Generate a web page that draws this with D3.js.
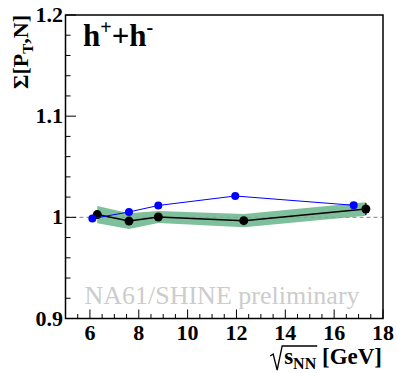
<!DOCTYPE html>
<html><head><meta charset="utf-8">
<script src="https://cdn.jsdelivr.net/npm/d3@7"></script>
<style>body{margin:0;background:#fff}svg{display:block}</style>
</head><body>
<script>
const W = 397, H = 373;
// data
const blackX = [6.3, 7.6, 8.8, 12.3, 17.3];
const blackY = [1.0027, 0.9963, 1.0003, 0.9967, 1.0082];
const blackStat = [0.002, 0.002, 0.002, 0.002, 0.006];
const blackSys = [0.0085, 0.0078, 0.006, 0.0065, 0.0066];
const blueX = [6.1, 7.6, 8.8, 11.95, 16.8];
const blueY = [0.9988, 1.0053, 1.0117, 1.0211, 1.0119];
const xTicks = [6, 8, 10, 12, 14, 16, 18];
const yTicks = [0.9, 1.0, 1.1, 1.2];
const yTickLabels = ["0.9", "1", "1.1", "1.2"];

const m = {l: 65.5, r: 383, t: 15, b: 318.5};
const x = d3.scaleLinear().domain([5, 18]).range([m.l, m.r]);
const y = d3.scaleLinear().domain([0.9, 1.2]).range([m.b, m.t]);
const FF = "Liberation Serif";

const svg = d3.select("body").append("svg").attr("width", W).attr("height", H);

// watermark
svg.append("text").attr("x", 222).attr("y", 304).attr("text-anchor", "middle")
  .attr("font-family", "'Liberation Serif', Tinos, 'Times New Roman', serif")
  .attr("font-size", 26).attr("fill", "#cccccc")
  .text("NA61/SHINE preliminary");

// band
const bandData = blackX.map((v, i) => ({x: v, lo: blackY[i] - blackSys[i], hi: blackY[i] + blackSys[i]}));
svg.append("path").datum(bandData)
  .attr("d", d3.area().x(d => x(d.x)).y0(d => y(d.lo)).y1(d => y(d.hi)))
  .attr("fill", "#7fc09c");

// dashed line at 1
svg.append("line").attr("x1", m.l).attr("x2", m.r).attr("y1", y(1)).attr("y2", y(1))
  .attr("stroke", "#9a9a9a").attr("stroke-width", 1.2).attr("stroke-dasharray", "4,3");

// black series
const bData = blackX.map((v, i) => ({x: v, y: blackY[i], e: blackStat[i]}));
svg.append("path").datum(bData).attr("d", d3.line().x(d => x(d.x)).y(d => y(d.y)))
  .attr("fill", "none").attr("stroke", "#000").attr("stroke-width", 1.5);
svg.selectAll(".eb").data(bData).enter().append("line")
  .attr("x1", d => x(d.x)).attr("x2", d => x(d.x))
  .attr("y1", d => y(d.y - d.e)).attr("y2", d => y(d.y + d.e))
  .attr("stroke", "#000").attr("stroke-width", 1.2);
svg.selectAll(".bp").data(bData).enter().append("circle")
  .attr("cx", d => x(d.x)).attr("cy", d => y(d.y)).attr("r", 4.5).attr("fill", "#000");

// blue series
const uData = blueX.map((v, i) => ({x: v, y: blueY[i]}));
svg.append("path").datum(uData).attr("d", d3.line().x(d => x(d.x)).y(d => y(d.y)))
  .attr("fill", "none").attr("stroke", "#0000ff").attr("stroke-width", 1);
svg.selectAll(".up").data(uData).enter().append("circle")
  .attr("cx", d => x(d.x)).attr("cy", d => y(d.y)).attr("r", 4).attr("fill", "#0000ff");

// frame
svg.append("rect").attr("x", m.l).attr("y", m.t).attr("width", m.r - m.l).attr("height", m.b - m.t)
  .attr("fill", "none").attr("stroke", "#000").attr("stroke-width", 1.5);

// x axis ticks
const xMinor = d3.range(5, 18.01, 0.5);
svg.selectAll(".xt").data(xMinor).enter().append("line")
  .attr("x1", d => x(d)).attr("x2", d => x(d)).attr("y1", m.b)
  .attr("y2", d => m.b - (Math.abs(d % 2) < 1e-6 ? 9 : 4.5))
  .attr("stroke", "#000").attr("stroke-width", 1);
svg.selectAll(".xl").data(xTicks).enter().append("text")
  .attr("x", d => x(d)).attr("y", 340).attr("text-anchor", "middle")
  .attr("font-family", FF).attr("font-weight", "bold").attr("font-size", 22)
  .text(d => d);

// y axis ticks
const yMinor = d3.range(0, 16).map(i => 0.9 + i * 0.02);
svg.selectAll(".yt").data(yMinor).enter().append("line")
  .attr("y1", d => y(d)).attr("y2", d => y(d)).attr("x1", m.l)
  .attr("x2", (d, i) => m.l + (i % 5 === 0 ? 10.5 : 5))
  .attr("stroke", "#000").attr("stroke-width", 1);
svg.selectAll(".yl").data(yTicks).enter().append("text")
  .attr("x", 63).attr("y", d => y(d) + 7).attr("text-anchor", "end")
  .attr("font-family", FF).attr("font-weight", "bold").attr("font-size", 22)
  .text((d, i) => yTickLabels[i]);

// x title: sqrt drawn as path, then s_NN [GeV]
const xt = svg.append("text").attr("x", 382).attr("y", 364).attr("text-anchor", "end")
  .attr("font-family", FF).attr("font-weight", "bold").attr("font-size", 23);
xt.append("tspan").text("s");
xt.append("tspan").attr("dy", 5).attr("font-size", 16).text("NN");
xt.append("tspan").attr("dy", -5).text(" [GeV]");
const sx0 = xt.node().getStartPositionOfChar(0).x;
const nnEnd = xt.node().getEndPositionOfChar(2).x;
svg.append("path")
  .attr("d", `M${sx0 - 14},${356} L${sx0 - 11},${354} L${sx0 - 7},${370} L${sx0 - 2},${346} L${nnEnd + 1},${346}`)
  .attr("fill", "none").attr("stroke", "#000").attr("stroke-width", 1.3);

// y title
const yt = svg.append("text").attr("transform", "translate(28,15) rotate(-90)")
  .attr("text-anchor", "end").attr("font-family", FF).attr("font-weight", "bold").attr("font-size", 22);
yt.append("tspan").text("\u03A3[P");
yt.append("tspan").attr("dy", 5).attr("font-size", 15).text("T");
yt.append("tspan").attr("dy", -5).text(",N]");

// h+ + h- label
const hl = svg.append("text").attr("x", 83).attr("y", 46)
  .attr("font-family", FF).attr("font-weight", "bold").attr("font-size", 31);
hl.append("tspan").text("h");
hl.append("tspan").attr("dy", -12).attr("font-size", 20).text("+");
hl.append("tspan").attr("dy", 12).text("+h");
hl.append("tspan").attr("dy", -12).attr("font-size", 20).text("-");
</script>
</body></html>
